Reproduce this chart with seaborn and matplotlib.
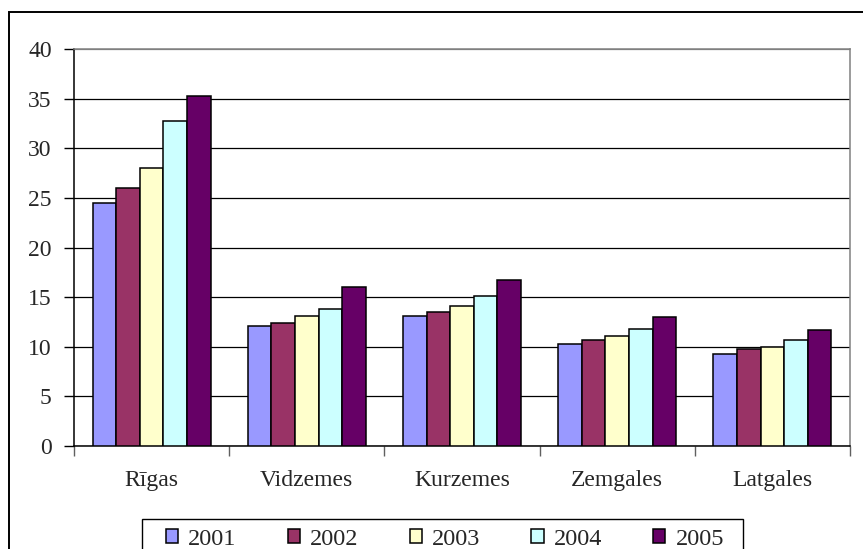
import numpy as np
import pandas as pd
import matplotlib
matplotlib.use("Agg")
import matplotlib.pyplot as plt
from matplotlib.patches import Rectangle
import seaborn as sns

# ── data ────────────────────────────────────────────────────────────────
regions = ["Rīgas", "Vidzemes", "Kurzemes", "Zemgales", "Latgales"]
years   = ["2001", "2002", "2003", "2004", "2005"]
v2001 = [24.5, 12.1, 13.1, 10.3,  9.3]
v2002 = [26.0, 12.4, 13.5, 10.65, 9.75]
v2003 = [28.0, 13.1, 14.1, 11.1, 10.0]
v2004 = [32.7, 13.8, 15.1, 11.8, 10.65]
v2005 = [35.3, 16.05, 16.7, 12.95, 11.65]
colors = ["#9999FF", "#993366", "#FFFFCC", "#CCFFFF", "#660066"]

df = pd.DataFrame({
    "region": np.tile(regions, len(years)),
    "year":   np.repeat(years, len(regions)),
    "value":  v2001 + v2002 + v2003 + v2004 + v2005,
})

sns.set_style("white")
plt.rcParams["font.family"] = ["Liberation Serif", "DejaVu Serif"]

W, H = 863, 549
fig = plt.figure(figsize=(W / 100, H / 100), dpi=100)
ax = fig.add_axes([74 / W, 1 - 446 / H, (850 - 74) / W, (446 - 49) / H])

sns.barplot(data=df, x="region", y="value", hue="year", hue_order=years,
            palette=colors, saturation=1, width=0.76, gap=0,
            edgecolor="black", linewidth=1.1, ax=ax, zorder=3)

ax.set_ylim(0, 40)
ax.set_xlim(-0.5, 4.5)
ax.set_yticks(np.arange(0, 41, 5))
ax.set_xlabel(""); ax.set_ylabel("")

# gridlines (top one is the grey plot border)
ax.grid(axis="y", color="black", linewidth=0.9, zorder=0)
ax.set_axisbelow(True)
ax.yaxis.get_gridlines()[-1].set_color("#808080")

for s in ("left", "bottom"):
    ax.spines[s].set_color("black"); ax.spines[s].set_linewidth(1.1)
for s in ("top", "right"):
    ax.spines[s].set_color("#808080"); ax.spines[s].set_linewidth(1.1)

ax.tick_params(axis="y", direction="out", length=7, width=1, color="black",
               labelsize=17, pad=9, left=True)
ax.tick_params(axis="x", which="major", length=0, labelsize=17, pad=17)
ax.set_xticks(np.arange(-0.5, 4.6, 1), minor=True)
ax.tick_params(axis="x", which="minor", direction="out", length=7, width=1,
               color="#606060", bottom=True)

# legend below the chart, frame drawn separately
handles, labels = ax.get_legend_handles_labels()
ax.get_legend().remove()
fig.legend(handles, labels, ncol=5, loc="upper left",
           bbox_to_anchor=(166 / W, 1 - 529 / H),
           frameon=False, fontsize=17.5,
           handlelength=0.5, handleheight=0.5, handletextpad=0.42,
           columnspacing=2.1, borderpad=0, borderaxespad=0)
fig.patches.append(Rectangle((142 / W, -0.1), (743 - 142) / W, 0.1 + 1 - 519 / H,
                             transform=fig.transFigure, fill=False,
                             edgecolor="black", linewidth=1))

# outer chart frame
fig.patches.append(Rectangle((9 / W, -0.1), 1.2, 1.1 - 12 / H,
                             transform=fig.transFigure, fill=False,
                             edgecolor="black", linewidth=1.4))

fig.savefig("out.png", dpi=100)
